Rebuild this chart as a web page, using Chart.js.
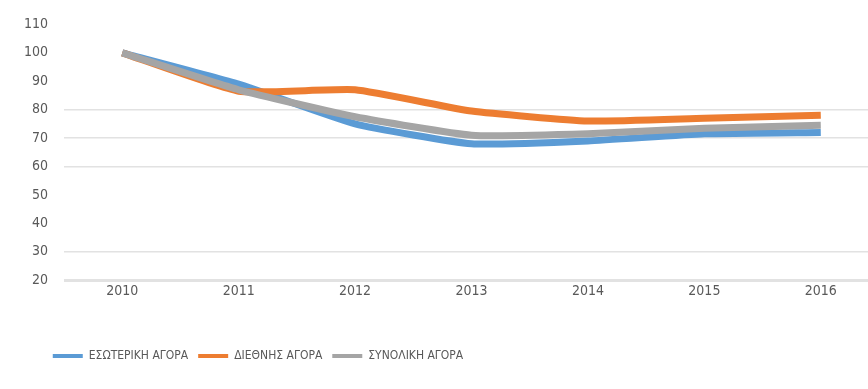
<!DOCTYPE html>
<html>
<head>
<meta charset="utf-8">
<script src="https://cdn.jsdelivr.net/npm/chart.js@4/dist/chart.umd.min.js"></script>
<style>
  body { margin: 0; background: #fff; }
  #wrap { width: 868px; height: 389px; }
</style>
</head>
<body>
<div id="wrap"><canvas id="myChart" width="868" height="389"></canvas></div>
<script>
// years on the x axis
const years = ['2010', '2011', '2012', '2013', '2014', '2015', '2016'];

// index values (2010 = 100)
const domestic = [100, 89, 75, 68, 69, 71.5, 72];
const foreign = [100, 86.5, 87, 79.5, 76, 77, 78];
const total = [100, 87, 77.5, 71, 71.5, 73.5, 74.5];

const seriesNames = ['ΕΣΩΤΕΡΙΚΗ ΑΓΟΡΑ', 'ΔΙΕΘΝΗΣ ΑΓΟΡΑ', 'ΣΥΝΟΛΙΚΗ ΑΓΟΡΑ'];
const yTicks = [20, 30, 40, 50, 60, 70, 80, 90, 100, 110];
// gridlines that actually show in the original
const shownGrid = [20, 30, 60, 70, 80];

const family = '"DejaVu Sans Condensed", "Liberation Sans", sans-serif';

// the source picture is cropped: the plot runs a bit past the right edge,
// and the legend sits left of centre, lower down
const tweakLayout = {
    id: 'tweakLayout',
    afterLayout(chart) {
        const x = chart.scales.x;
        x.right += 11;
        x.width += 11;
        x.configure();
        const lg = chart.legend;
        if (lg) {
            lg.left -= 180;
            lg.right -= 180;
            lg.top += 45;
            lg.bottom += 45;
        }
    }
};

const ctx = document.getElementById('myChart').getContext('2d');
new Chart(ctx, {
    type: 'line',
    data: {
        labels: years,
        datasets: [
            // later series sit on top, like in the original
            { label: seriesNames[0], data: domestic, borderColor: '#5b9bd5', backgroundColor: '#5b9bd5', order: 3 },
            { label: seriesNames[1], data: foreign, borderColor: '#ed7d31', backgroundColor: '#ed7d31', order: 2 },
            { label: seriesNames[2], data: total, borderColor: '#a5a5a5', backgroundColor: '#a5a5a5', order: 1 }
        ].map(d => Object.assign(d, { borderWidth: 7, pointRadius: 0, tension: 0.15, fill: false }))
    },
    options: {
        responsive: false,
        animation: false,
        layout: { padding: { top: 6, right: 0, bottom: 62, left: 8 } },
        plugins: {
            tooltip: { enabled: false },
            legend: {
                position: 'bottom',
                align: 'center',
                labels: {
                    color: '#595959',
                    font: { family: family, size: 12 },
                    boxWidth: 30,
                    boxHeight: 4,
                    padding: 10,
                    generateLabels(chart) {
                        return chart.data.datasets.map((d, i) => ({
                            text: d.label,
                            fillStyle: d.borderColor,
                            strokeStyle: d.borderColor,
                            lineWidth: 0,
                            datasetIndex: i,
                            fontColor: '#595959'
                        }));
                    }
                }
            }
        },
        scales: {
            x: {
                offset: true,
                grid: { display: false },
                border: { display: false },
                ticks: { color: '#595959', font: { family: family, size: 14 }, padding: -5 }
            },
            y: {
                min: 20,
                max: 110,
                afterBuildTicks(axis) { axis.ticks = yTicks.map(v => ({ value: v })); },
                grid: {
                    drawTicks: false,
                    color: c => shownGrid.includes(c.tick && c.tick.value) ? '#e2e2e2' : 'rgba(0,0,0,0)',
                    lineWidth: c => (c.tick && c.tick.value === 20) ? 3 : 1.5
                },
                border: { display: false },
                ticks: { color: '#595959', font: { family: family, size: 14 }, padding: 16 }
            }
        }
    },
    plugins: [tweakLayout]
});
</script>
</body>
</html>
